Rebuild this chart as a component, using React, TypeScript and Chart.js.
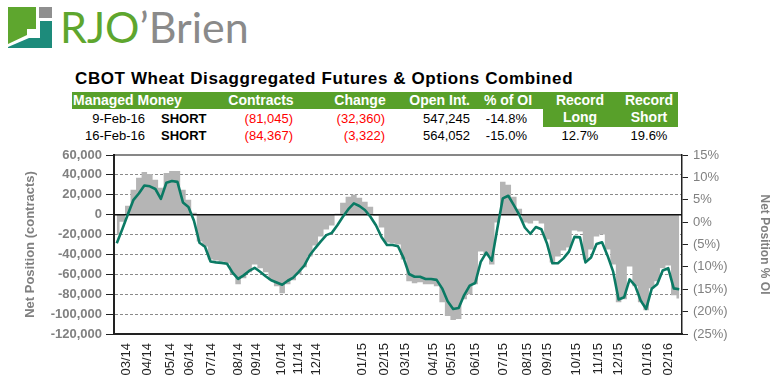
import React, { useEffect, useRef } from 'react';
import { Chart, registerables } from 'chart.js';

Chart.register(...registerables);

// Weekly net position of managed money (contracts), Mar-2014 .. 16-Feb-2016
const netContracts = [
  -20000, -7000, 9000, 25000, 37000, 43000, 41000, 35000, 27000, 42000,
  44000, 44000, 25000, 15000, 2000, -27000, -32000, -45000, -46000, -47000,
  -49000, -60000, -70000, -64000, -58000, -50000, -54000, -58000, -66000, -72000,
  -79000, -70000, -66000, -60000, -53000, -42000, -31000, -22000, -15000, -11000,
  1000, 12000, 18000, 20000, 17000, 13000, 8000, -1000, -13000, -28000,
  -29000, -30000, -45000, -67000, -69000, -68000, -70000, -70000, -72000, -88000,
  -102000, -106000, -105000, -85000, -80000, -70000, -37000, -41000, -50000, -8000,
  33000, 30000, 18000, 6000, -8000, -9000, -6000, -9000, -25000, -48000,
  -42000, -36000, -33000, -16000, -17000, -45000, -35000, -22000, -20000, -35000,
  -50000, -88000, -85000, -52000, -72000, -88000, -96000, -74000, -67000, -54000,
  -51000, -81045, -84367,
];

// Net position as % of open interest
const pctOfOI = [
  -4.7, -1.6, 1.7, 4.9, 6.4, 8.2, 8.0, 7.4, 5.2, 8.8,
  9.2, 9.0, 4.4, 3.4, 0.3, -4.6, -5.5, -8.8, -9.0, -9.1,
  -9.3, -11.3, -12.7, -11.9, -10.9, -10.2, -11.1, -12.1, -13.0, -13.5,
  -14.0, -13.1, -12.4, -11.1, -9.7, -7.4, -5.8, -4.3, -2.9, -2.4,
  -0.7, 1.2, 2.9, 4.2, 3.6, 2.7, 1.2, -0.7, -3.3, -5.1,
  -5.1, -5.4, -8.0, -11.6, -12.2, -12.2, -12.7, -12.7, -12.9, -14.8,
  -17.7, -19.4, -19.2, -16.3, -14.2, -13.6, -8.9, -6.8, -8.6, -1.5,
  5.3, 5.9, 3.8, 1.6, -1.2, -2.6, -1.1, -1.6, -4.7, -9.2,
  -9.2, -8.1, -6.6, -3.3, -3.4, -9.0, -7.9, -4.9, -4.5, -7.5,
  -11.0, -17.3, -16.8, -12.8, -14.2, -17.5, -19.4, -14.9, -13.9, -10.8,
  -10.3, -14.8, -15.0,
];

// Month labels and the week index where each appears
const xTickLabels = [
  '03/14', '04/14', '05/14', '06/14', '07/14', '08/14', '09/14', '10/14', '11/14', '12/14',
  '01/15', '02/15', '03/15', '04/15', '05/15', '06/15', '07/15', '08/15', '09/15', '10/15',
  '11/15', '12/15', '01/16', '02/16',
];
const xTickWeeks = [
  1.7, 5.5, 9.8, 13.1, 17.1, 22, 25.3, 29.8, 32.9, 36.2,
  44.5, 48.5, 52.3, 57.4, 60.7, 65, 70.1, 74.5, 78.1, 83.4,
  87.3, 90.9, 96.2, 100,
];

// Table content
const headerLabels = ['Managed Money', 'Contracts', 'Change', 'Open Int.', '% of OI'];
const reportDates = ['9-Feb-16', '16-Feb-16'];
const positionSide = ['SHORT', 'SHORT'];
const contractsCol = ['(81,045)', '(84,367)'];
const changeCol = ['(32,360)', '(3,322)'];
const openIntCol = ['547,245', '564,052'];
const pctOICol = ['-14.8%', '-15.0%'];
const recordLabels = ['Long', 'Short'];
const recordValues = ['12.7%', '19.6%'];

const FONT = "'Liberation Sans', Arial, Helvetica, sans-serif";
const GREEN = '#58a02a';

const abs = (s: React.CSSProperties): React.CSSProperties => ({
  position: 'absolute',
  whiteSpace: 'nowrap',
  fontFamily: FONT,
  ...s,
});

export default function App() {
  const ref = useRef<HTMLCanvasElement>(null);

  useEffect(() => {
    const canvas = ref.current!;
    const framePlugin = {
      id: 'frameLines',
      afterDatasetDraw(chart: any, args: any) {
        if (args.index !== 1) return;
        const { ctx, chartArea: a, scales } = chart;
        const y0 = scales.y.getPixelForValue(0);
        ctx.save();
        ctx.strokeStyle = '#111';
        ctx.lineWidth = 1.5;
        ctx.beginPath();
        ctx.moveTo(a.left, y0);
        ctx.lineTo(a.right, y0);
        ctx.stroke();
        ctx.lineWidth = 1.2;
        ctx.beginPath();
        ctx.moveTo(a.left, a.top);
        ctx.lineTo(a.right, a.top);
        ctx.stroke();
        ctx.restore();
      },
    };

    const chart = new Chart(canvas, {
      type: 'line',
      data: {
        datasets: [
          {
            label: 'Net Position % OI',
            data: pctOfOI.map((v, i) => ({ x: i, y: v })),
            yAxisID: 'y1',
            borderColor: '#0b7a64',
            borderWidth: 2.6,
            pointRadius: 0,
            tension: 0,
            fill: false,
            borderJoinStyle: 'round',
          },
          {
            label: 'Net Position (contracts)',
            data: netContracts.map((v, i) => ({ x: i, y: v })),
            yAxisID: 'y',
            borderWidth: 0,
            borderColor: 'rgba(0,0,0,0)',
            backgroundColor: '#b5b5b5',
            pointRadius: 0,
            stepped: 'middle',
            fill: 'origin',
          },
        ],
      },
      options: {
        responsive: false,
        animation: false,
        devicePixelRatio: 1,
        layout: { padding: { top: 15, left: 0, right: 0, bottom: 0 } },
        plugins: { legend: { display: false }, tooltip: { enabled: false } },
        scales: {
          x: {
            type: 'linear',
            min: -0.5,
            max: 102.5,
            afterBuildTicks: (s: any) => {
              s.ticks = xTickWeeks.map((v) => ({ value: v }));
            },
            afterFit: (s: any) => {
              s.height = 46;
            },
            grid: { display: false, drawTicks: false },
            border: { display: true, color: '#222', width: 2 },
            ticks: {
              autoSkip: false,
              maxRotation: 90,
              minRotation: 90,
              padding: 9,
              color: '#222',
              font: { size: 13, family: FONT },
              callback: (_v: any, i: number) => xTickLabels[i],
            },
          },
          y: {
            position: 'left',
            min: -120000,
            max: 60000,
            afterFit: (s: any) => {
              s.width = 114;
            },
            ticks: {
              stepSize: 20000,
              color: '#808080',
              padding: 4,
              font: { size: 13, weight: 'bold', family: FONT },
              callback: (v: any) => Number(v).toLocaleString('en-US'),
            },
            grid: {
              color: (c: any) =>
                c.tick && (c.tick.value === 0 || c.tick.value === 60000 || c.tick.value === -120000)
                  ? 'rgba(0,0,0,0)'
                  : '#8a8a8a',
              tickColor: '#222',
              tickLength: 8,
              tickBorderDash: [],
              lineWidth: 1,
            },
            border: { color: '#222', width: 2, dash: [3, 2] },
            title: {
              display: true,
              text: 'Net Position (contracts)',
              color: '#808080',
              font: { size: 13, weight: 'bold', family: FONT },
              padding: { top: 23, bottom: 0 },
            },
          },
          y1: {
            position: 'right',
            min: -25,
            max: 15,
            afterFit: (s: any) => {
              s.width = 94;
            },
            ticks: {
              stepSize: 5,
              color: '#808080',
              padding: 5,
              font: { size: 13, family: FONT },
              callback: (v: any) => (v < 0 ? `(${-v}%)` : `${v}%`),
            },
            grid: { drawOnChartArea: false, tickColor: '#222', tickLength: 6 },
            border: { color: '#222', width: 1.5 },
            title: {
              display: true,
              text: 'Net Position % OI',
              color: '#808080',
              font: { size: 12, weight: 'bold', family: FONT },
              padding: { top: 4, bottom: 0 },
            },
          },
        },
      } as any,
      plugins: [framePlugin],
    });
    return () => chart.destroy();
  }, []);

  const rowTops = [111, 128];

  return (
    <div style={{ position: 'fixed', left: 0, top: 0, width: 776, height: 380, background: '#fff', overflow: 'hidden' }}>
      {/* Logo */}
      <svg style={{ position: 'absolute', left: 0, top: 0 }} width={60} height={52}>
        <polygon points="8,7 36,7 36,29 27,29 27,35 8,44" fill="#5ea62e" />
        <rect x={39} y={7} width={13} height={11} fill="#8f8f8f" />
        <polygon points="40,21 52,21 52,48 8,48 8,47 29,38 40,38" fill="#1d8b7b" />
      </svg>
      <div style={abs({ left: 60, top: 5, fontFamily: 'Lato, sans-serif', fontSize: 43, lineHeight: '43px' })}>
        <span style={{ color: '#5ea62e' }}>RJO</span>
        <span style={{ color: '#8a8a8a' }}>’Brien</span>
      </div>

      {/* Title */}
      <div style={abs({ left: 75, top: 70, fontSize: 17, lineHeight: '17px', fontWeight: 'bold', letterSpacing: 0.6, color: '#000' })}>
        CBOT Wheat Disaggregated Futures &amp; Options Combined
      </div>

      {/* Table header */}
      <div style={{ position: 'absolute', left: 72, top: 92, width: 606, height: 17, background: GREEN }} />
      <div style={{ position: 'absolute', left: 543, top: 92, width: 135, height: 35, background: GREEN }} />
      <div style={abs({ left: 73, top: 92, fontSize: 14, lineHeight: '17px', fontWeight: 'bold', color: '#fff' })}>{headerLabels[0]}</div>
      <div style={abs({ left: 211, width: 100, textAlign: 'center', top: 92, fontSize: 14, lineHeight: '17px', fontWeight: 'bold', color: '#fff' })}>{headerLabels[1]}</div>
      <div style={abs({ left: 310, width: 100, textAlign: 'center', top: 92, fontSize: 14, lineHeight: '17px', fontWeight: 'bold', color: '#fff' })}>{headerLabels[2]}</div>
      <div style={abs({ right: 776 - 470, textAlign: 'right', top: 92, fontSize: 14, lineHeight: '17px', fontWeight: 'bold', color: '#fff' })}>{headerLabels[3]}</div>
      <div style={abs({ left: 458, width: 100, textAlign: 'center', top: 92, fontSize: 14, lineHeight: '17px', fontWeight: 'bold', color: '#fff' })}>{headerLabels[4]}</div>
      {recordLabels.map((r, i) => (
        <React.Fragment key={r}>
          <div style={abs({ left: 530 + i * 69, width: 100, textAlign: 'center', top: 92, fontSize: 14, lineHeight: '17px', fontWeight: 'bold', color: '#fff' })}>Record</div>
          <div style={abs({ left: 530 + i * 69, width: 100, textAlign: 'center', top: 109, fontSize: 14, lineHeight: '17px', fontWeight: 'bold', color: '#fff' })}>{r}</div>
          <div style={abs({ left: 530 + i * 69, width: 100, textAlign: 'center', top: 128, fontSize: 13, lineHeight: '16px', color: '#000' })}>{recordValues[i]}</div>
        </React.Fragment>
      ))}

      {/* Table rows */}
      {reportDates.map((d, i) => (
        <React.Fragment key={d}>
          <div style={abs({ right: 776 - 145, textAlign: 'right', top: rowTops[i], fontSize: 13, lineHeight: '16px', color: '#000' })}>{d}</div>
          <div style={abs({ left: 161, top: rowTops[i], fontSize: 13, lineHeight: '16px', fontWeight: 'bold', color: '#000' })}>{positionSide[i]}</div>
          <div style={abs({ right: 776 - 293, textAlign: 'right', top: rowTops[i], fontSize: 13, lineHeight: '16px', color: '#ff0000' })}>{contractsCol[i]}</div>
          <div style={abs({ right: 776 - 385, textAlign: 'right', top: rowTops[i], fontSize: 13, lineHeight: '16px', color: '#ff0000' })}>{changeCol[i]}</div>
          <div style={abs({ right: 776 - 470, textAlign: 'right', top: rowTops[i], fontSize: 13, lineHeight: '16px', color: '#000' })}>{openIntCol[i]}</div>
          <div style={abs({ right: 776 - 527, textAlign: 'right', top: rowTops[i], fontSize: 13, lineHeight: '16px', color: '#000' })}>{pctOICol[i]}</div>
        </React.Fragment>
      ))}

      <canvas ref={ref} width={776} height={240} style={{ position: 'absolute', left: 0, top: 140, width: 776, height: 240 }} />
    </div>
  );
}
